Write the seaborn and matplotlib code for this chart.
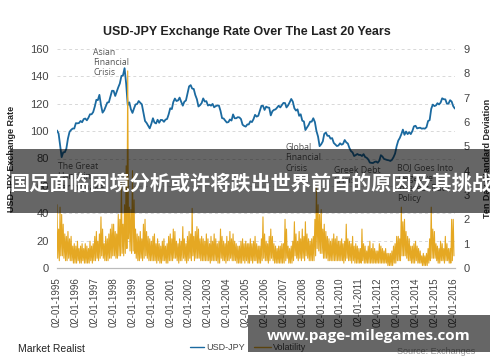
import numpy as np
import pandas as pd
import matplotlib
matplotlib.use('Agg')
import matplotlib.pyplot as plt
import matplotlib.dates as mdates
from matplotlib.patches import Rectangle
import seaborn as sns

# USD-JPY, one reading per month (Jan 1995 .. Feb 2016)
usd_jpy = [
    100.5, 98.2, 90.0, 81.0, 84.5, 84.6, 87.2, 94.6, 99.5, 100.9, 101.9, 101.9,   # 1995
    105.8, 105.7, 105.9, 107.4, 106.5, 108.8, 109.2, 107.9, 109.8, 112.3, 112.3, 113.9,  # 1996
    117.9, 122.9, 122.6, 126.5, 119.1, 113.5, 115.1, 117.9, 120.9, 121.1, 125.4, 129.5,  # 1997
    129.4, 125.7, 128.8, 132.0, 134.8, 140.3, 140.7, 146.0, 134.5, 119.0, 121.0, 116.0,  # 1998
    113.3, 116.7, 119.5, 119.8, 122.0, 120.7, 119.6, 113.3, 107.4, 106.0, 104.0, 102.0,  # 1999
    105.3, 109.4, 106.3, 105.6, 108.3, 106.1, 108.2, 108.1, 106.8, 108.4, 108.9, 112.2,  # 2000
    116.7, 116.1, 121.2, 123.8, 122.0, 122.4, 124.5, 121.4, 118.6, 121.5, 122.4, 127.6,  # 2001
    132.7, 133.6, 131.1, 130.8, 126.4, 123.3, 118.0, 119.0, 120.5, 123.9, 121.6, 121.9,  # 2002
    118.7, 119.3, 118.6, 119.9, 117.4, 118.3, 118.7, 118.7, 114.8, 109.5, 109.2, 107.7,  # 2003
    106.3, 106.6, 108.5, 107.7, 112.2, 109.4, 109.4, 110.2, 110.0, 108.8, 104.7, 103.8,  # 2004
    103.3, 104.9, 104.9, 107.2, 106.6, 108.8, 111.9, 110.6, 111.2, 114.9, 118.5, 118.5,  # 2005
    115.5, 117.9, 117.3, 117.1, 111.5, 114.5, 115.5, 115.9, 117.2, 118.6, 117.3, 119.0,  # 2006
    120.6, 120.5, 117.3, 118.8, 121.0, 123.5, 121.6, 116.7, 115.0, 115.9, 111.2, 112.3,  # 2007
    107.6, 107.1, 100.8, 102.7, 104.4, 106.9, 106.9, 109.4, 106.6, 100.1, 96.0, 89.0,   # 2008
    90.4, 92.5, 97.9, 99.0, 96.6, 96.6, 94.5, 94.9, 91.4, 90.3, 89.1, 89.5,       # 2009
    91.1, 90.1, 90.7, 93.5, 91.8, 90.9, 87.7, 85.4, 84.4, 81.8, 82.5, 83.3,       # 2010
    82.6, 82.6, 81.8, 83.2, 81.1, 80.5, 79.3, 77.0, 76.8, 76.7, 77.5, 77.8,       # 2011
    76.9, 78.5, 82.4, 81.4, 79.7, 79.3, 78.9, 78.7, 78.2, 79.0, 81.0, 83.6,       # 2012
    89.1, 93.1, 94.9, 97.7, 101.1, 97.3, 99.7, 97.8, 99.2, 97.8, 100.1, 103.5,    # 2013
    103.9, 102.0, 102.3, 102.5, 101.8, 102.0, 101.8, 102.9, 107.4, 108.0, 116.3, 119.4,  # 2014
    118.3, 118.8, 120.4, 119.5, 120.8, 124.0, 123.3, 123.2, 120.0, 120.1, 122.6, 121.6,  # 2015
    118.2, 116.5,                                                                  # 2016
]

# ten day std dev: monthly high and low reading (Jan 1995 .. Jan 2016)
vol_hi = [
    2.6, 1.6, 2.5, 2.2, 1.8, 1.4, 1.3, 1.5, 1.2, 1.3, 0.9, 1.0,
    0.9, 1.1, 0.8, 0.9, 1.0, 0.8, 1.0, 0.9, 0.8, 1.1, 0.9, 1.0,
    1.3, 1.5, 1.1, 1.4, 2.1, 1.6, 1.0, 1.3, 1.2, 1.4, 1.6, 1.8,
    1.8, 1.5, 1.4, 2.2, 2.0, 3.5, 1.8, 2.6, 4.2, 8.1, 2.5, 2.4,
    4.0, 2.8, 1.6, 1.4, 1.3, 1.5, 1.2, 1.8, 2.0, 1.5, 1.3, 1.2,
    1.1, 1.3, 1.4, 1.0, 1.2, 1.0, 0.9, 1.1, 1.2, 0.9, 1.0, 1.3,
    1.4, 1.2, 1.6, 1.5, 1.1, 1.0, 1.2, 1.1, 1.7, 1.2, 1.0, 1.3,
    1.5, 1.4, 2.45, 1.3, 1.5, 1.7, 1.6, 1.2, 1.3, 1.2, 1.1, 1.4,
    1.2, 1.0, 1.3, 1.1, 1.4, 1.2, 1.0, 1.1, 1.6, 1.3, 1.1, 1.0,
    1.3, 1.1, 1.5, 1.2, 1.4, 1.1, 1.0, 0.9, 0.9, 1.1, 1.2, 1.0,
    1.1, 1.0, 1.0, 1.2, 1.0, 1.1, 1.3, 1.0, 0.9, 0.9, 1.2, 2.1,
    1.4, 1.1, 1.0, 1.3, 1.6, 1.3, 1.0, 0.9, 0.8, 0.9, 0.9, 1.0,
    1.0, 2.0, 1.6, 0.9, 0.8, 0.9, 1.1, 1.9, 1.4, 1.1, 1.5, 1.2,
    1.6, 1.3, 1.9, 1.4, 1.2, 1.1, 1.2, 1.3, 2.0, 3.3, 2.6, 2.2,
    2.4, 1.6, 1.8, 1.5, 1.3, 1.2, 1.1, 1.2, 1.4, 1.2, 1.3, 1.1,
    1.1, 1.2, 1.0, 1.1, 1.8, 1.2, 1.1, 1.0, 1.3, 0.9, 1.0, 0.9,
    0.8, 0.8, 1.6, 1.0, 0.9, 0.7, 0.9, 1.1, 0.8, 1.0, 0.8, 0.7,
    0.7, 1.0, 0.9, 0.8, 0.7, 0.8, 0.6, 0.6, 0.6, 0.7, 0.9, 1.0,
    1.3, 1.3, 1.2, 2.5, 1.9, 2.0, 1.5, 1.3, 1.2, 0.9, 0.9, 1.0,
    1.1, 0.9, 0.8, 0.7, 0.5, 0.6, 0.5, 0.6, 0.8, 1.2, 2.5, 1.6,
    1.5, 1.0, 0.9, 0.8, 1.1, 1.0, 0.8, 1.3, 1.0, 0.8, 0.8, 2.0,
    2.0,
]
vol_lo = [
    0.4, 0.3, 0.5, 0.5, 0.4, 0.3, 0.3, 0.4, 0.3, 0.3, 0.2, 0.2,
    0.2, 0.3, 0.2, 0.2, 0.3, 0.2, 0.2, 0.2, 0.2, 0.3, 0.2, 0.3,
    0.3, 0.4, 0.3, 0.4, 0.5, 0.4, 0.3, 0.3, 0.3, 0.4, 0.4, 0.5,
    0.5, 0.4, 0.4, 0.5, 0.5, 0.6, 0.5, 0.6, 0.8, 1.2, 0.7, 0.6,
    0.7, 0.6, 0.4, 0.3, 0.3, 0.4, 0.3, 0.4, 0.5, 0.4, 0.3, 0.3,
    0.3, 0.3, 0.3, 0.2, 0.3, 0.2, 0.2, 0.3, 0.3, 0.2, 0.2, 0.3,
    0.3, 0.3, 0.4, 0.4, 0.3, 0.2, 0.3, 0.3, 0.4, 0.3, 0.2, 0.3,
    0.4, 0.3, 0.5, 0.3, 0.4, 0.4, 0.4, 0.3, 0.3, 0.3, 0.3, 0.3,
    0.3, 0.2, 0.3, 0.3, 0.3, 0.3, 0.2, 0.2, 0.4, 0.3, 0.3, 0.2,
    0.3, 0.3, 0.4, 0.3, 0.3, 0.3, 0.2, 0.2, 0.2, 0.2, 0.3, 0.2,
    0.3, 0.2, 0.2, 0.3, 0.2, 0.3, 0.3, 0.2, 0.2, 0.2, 0.3, 0.4,
    0.3, 0.3, 0.2, 0.3, 0.4, 0.3, 0.2, 0.2, 0.2, 0.2, 0.2, 0.2,
    0.2, 0.3, 0.4, 0.2, 0.2, 0.2, 0.3, 0.5, 0.4, 0.3, 0.4, 0.3,
    0.4, 0.3, 0.5, 0.4, 0.3, 0.3, 0.3, 0.3, 0.5, 0.8, 0.7, 0.6,
    0.6, 0.4, 0.4, 0.4, 0.3, 0.3, 0.3, 0.3, 0.3, 0.3, 0.3, 0.3,
    0.3, 0.3, 0.2, 0.3, 0.4, 0.3, 0.3, 0.2, 0.3, 0.2, 0.2, 0.2,
    0.2, 0.2, 0.3, 0.2, 0.2, 0.2, 0.2, 0.2, 0.2, 0.2, 0.2, 0.2,
    0.2, 0.2, 0.2, 0.2, 0.2, 0.2, 0.1, 0.1, 0.1, 0.1, 0.2, 0.2,
    0.3, 0.3, 0.3, 0.5, 0.5, 0.5, 0.4, 0.3, 0.3, 0.2, 0.2, 0.2,
    0.3, 0.2, 0.2, 0.2, 0.1, 0.1, 0.1, 0.1, 0.2, 0.3, 0.4, 0.4,
    0.4, 0.3, 0.2, 0.2, 0.3, 0.3, 0.2, 0.3, 0.3, 0.2, 0.2, 0.3,
    0.5,
]

tick_years = list(range(1995, 2017))
events = ["Asian\nFinancial\nCrisis", "The Great\nHanshin\nEarthquake",
          "Global\nFinancial\nCrisis", "Greek Debt\nCrisis",
          "BOJ Goes Into\nNegative\nInterest Rate\nPolicy"]
event_dates = ["1996-12-05", "1995-01-12", "2007-02-10", "2009-09-05", "2013-01-10"]
event_vals = [161, 77.5, 91.5, 74.5, 76.5]

blue = "#1b6aa0"
gold = "#e5a823"

months = pd.date_range("1995-01-01", periods=len(usd_jpy), freq="MS") + pd.Timedelta(days=1)
df_fx = pd.DataFrame({"date": months, "rate": usd_jpy})

vm = pd.date_range("1995-01-01", periods=len(vol_hi), freq="MS")
vol_dates = []
vol_vals = []
for d, h, l in zip(vm, vol_hi, vol_lo):
    vol_dates += [d + pd.Timedelta(days=1), d + pd.Timedelta(days=15)]
    vol_vals += [h, l]
df_vol = pd.DataFrame({"date": vol_dates, "vol": vol_vals})

sns.set_style("white")
plt.rcParams['font.family'] = ['Liberation Sans', 'DejaVu Sans']

fig = plt.figure(figsize=(5, 3.62), dpi=100)
ax = fig.add_axes([57/500, 1-268/362, (455-57)/500, (268-49)/362])
ax2 = ax.twinx()

sns.lineplot(data=df_fx, x="date", y="rate", ax=ax, color=blue, linewidth=1.3)
sns.lineplot(data=df_vol, x="date", y="vol", ax=ax2, color=gold, linewidth=0.8)

ax.set_ylim(0, 160)
ax.set_yticks(range(0, 161, 20))
ax2.set_ylim(0, 9)
ax2.set_yticks(range(0, 10))
ax.set_xlim(pd.Timestamp("1995-01-02"), pd.Timestamp("2016-02-05"))
ax.grid(axis="y", color="#d8d8d8", linestyle=(0, (3, 3)), linewidth=0.7)

ax.set_xticks([pd.Timestamp(f"{y}-01-02") for y in tick_years])
ax.xaxis.set_major_formatter(mdates.DateFormatter("%d-%m-%Y"))
ax.tick_params(axis="x", rotation=90, labelsize=7, colors="#444444", length=3, width=0.6)
ax.tick_params(axis="x", color="#bbbbbb")
ax.tick_params(axis="y", labelsize=8, colors="#444444", length=0, pad=6)
ax2.tick_params(axis="y", labelsize=8, colors="#444444", length=0, pad=6)

for a in (ax, ax2):
    for s in ("left", "right", "top"):
        a.spines[s].set_visible(False)
    a.spines["bottom"].set_color("#bbbbbb")
    a.spines["bottom"].set_linewidth(0.8)

ax.set_xlabel("")
ax.set_ylabel("USD-JPY Exchange Rate", fontsize=6.5, fontweight="bold", labelpad=10)
ax2.set_ylabel("Ten Day Standard Deviation", fontsize=6.5, fontweight="bold", labelpad=10)

for txt, d, v in zip(events, event_dates, event_vals):
    ax.text(pd.Timestamp(d), v, txt, fontsize=6.3, color="#555555", va="top", ha="left",
            family=["Open Sans", "DejaVu Sans"], linespacing=1.2)

fig.text(247/500, 1-32/362, "USD-JPY Exchange Rate Over The Last 20 Years",
         ha="center", va="center", fontsize=9, fontweight="bold", color="#222222")

# legend and footer
fig.add_artist(plt.Line2D([190/500, 204/500], [1-347/362, 1-347/362], color=blue, lw=1))
fig.text(206/500, 1-347/362, "USD-JPY", fontsize=6.5, color="#444444", va="center")
fig.add_artist(plt.Line2D([254/500, 271/500], [1-347/362, 1-347/362], color=gold, lw=1))
fig.text(273/500, 1-347/362, "Volatility", fontsize=6.5, color="#444444", va="center")
fig.text(18/500, 1-349/362, "Market Realist", fontsize=7.5, color="#222222", va="center")
fig.text(475/500, 1-351/362, "Source: Exchanges", fontsize=6.5, color="#999999", va="center", ha="right")

# overlay banner and watermark
fig.add_artist(Rectangle((10/500, 1-213/362), 480/500, 64/362, transform=fig.transFigure,
                         facecolor="black", alpha=0.6, edgecolor="none", zorder=10))
fig.text(251/500, 1-183/362, "国足面临困境分析或许将跌出世界前百的原因及其挑战",
         ha="center", va="center", fontsize=14.5, fontweight="bold", color="white",
         family=["Noto Sans CJK SC", "DejaVu Sans"], zorder=11)
fig.add_artist(Rectangle((248/500, 1-352/362), 242/500, 37/362, transform=fig.transFigure,
                         facecolor="black", alpha=0.6, edgecolor="none", zorder=10))
fig.text(369/500, 1-336/362, "www.page-milegames.com", ha="center", va="center",
         fontsize=11, fontweight="bold", color="white",
         family=["Open Sans", "DejaVu Sans"], zorder=11)

fig.savefig("out.png", dpi=100)
